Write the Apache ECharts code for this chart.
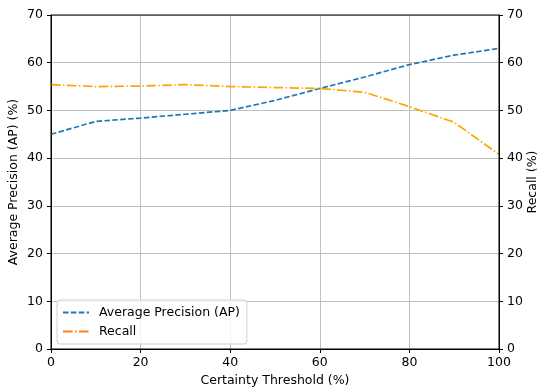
<!DOCTYPE html>
<html>
<head>
<meta charset="utf-8">
<script src="https://cdn.jsdelivr.net/npm/echarts@6/dist/echarts.min.js"></script>
<style>
  html, body { margin: 0; padding: 0; background: #fff; }
  #main { width: 538px; height: 387px; }
</style>
</head>
<body>
<div id="main"></div>
<script>
// 数据
const thresholds = [0, 10, 20, 30, 40, 50, 60, 70, 80, 90, 100];
const apValues = [45.0, 47.7, 48.4, 49.2, 50.0, 52.1, 54.6, 57.0, 59.6, 61.6, 63.0];
const recallValues = [55.4, 55.0, 55.1, 55.4, 55.0, 54.8, 54.6, 53.8, 50.8, 47.5, 40.8];

const font = 'DejaVu Sans';
const black = '#000';
const fs = 12.5;

var chartDom = document.getElementById('main');
var myChart = echarts.init(chartDom);
var option;

const pairs = (ys) => thresholds.map((x, i) => [x, ys[i]]);

const yAxisBase = {
    type: 'value',
    min: 0,
    max: 70,
    interval: 10,
    nameLocation: 'middle',
    nameRotate: 90,
    nameMoveOverlap: false,
    nameTextStyle: { fontFamily: font, fontSize: fs, color: black },
    axisLine: { show: true, lineStyle: { color: black, width: 1 } },
    axisTick: { show: true, inside: false, length: 4, lineStyle: { color: black } },
    axisLabel: { fontFamily: font, fontSize: fs, color: black, margin: 8 }
};

option = {
    animation: false,
    backgroundColor: '#fff',
    grid: { left: 51, right: 39, top: 15, bottom: 38, containLabel: false, outerBoundsMode: 'none' },
    xAxis: {
        type: 'value',
        min: 0,
        max: 100,
        interval: 20,
        name: 'Certainty Threshold (%)',
        nameLocation: 'middle',
        nameGap: 24,
        nameTextStyle: { fontFamily: font, fontSize: fs, color: black },
        axisLine: { show: true, onZero: false, lineStyle: { color: black, width: 1 } },
        axisTick: { show: true, length: 4, lineStyle: { color: black } },
        axisLabel: { fontFamily: font, fontSize: fs, color: black, margin: 7 },
        splitLine: { show: true, lineStyle: { color: '#b0b0b0', width: 0.8 } }
    },
    yAxis: [
        Object.assign({}, yAxisBase, {
            position: 'left',
            name: 'Average Precision (AP) (%)',
            nameGap: 31,
            splitLine: { show: true, lineStyle: { color: '#b0b0b0', width: 0.8 } }
        }),
        Object.assign({}, yAxisBase, {
            position: 'right',
            name: 'Recall (%)',
            nameGap: 27,
            splitLine: { show: false }
        })
    ],
    legend: {
        left: 57,
        top: 300,
        orient: 'vertical',
        itemWidth: 26,
        itemHeight: 10,
        itemGap: 6,
        padding: [6, 7, 6, 5],
        backgroundColor: 'rgba(255,255,255,0.8)',
        borderColor: '#d0d0d0',
        borderWidth: 1,
        borderRadius: 3,
        itemStyle: { opacity: 0 },
        textStyle: { fontFamily: font, fontSize: fs, color: black, padding: [0, 0, 0, 5] },
        data: [
            { name: 'Average Precision (AP)' },
            { name: 'Recall', lineStyle: { color: '#ff7f0e' } }
        ]
    },
    series: [
        {
            name: 'Average Precision (AP)',
            type: 'line',
            yAxisIndex: 0,
            data: pairs(apValues),
            symbol: 'none',
            showSymbol: false,
            color: '#1f77b4',
            lineStyle: { color: '#1f77b4', width: 1.7, type: [5.5, 2.4] }
        },
        {
            name: 'Recall',
            type: 'line',
            yAxisIndex: 1,
            data: pairs(recallValues),
            symbol: 'none',
            showSymbol: false,
            color: '#ffa500',
            lineStyle: { color: '#ffa500', width: 1.7, type: [9.6, 2.4, 1.5, 2.4] }
        }
    ],
    graphic: [
        {
            type: 'rect',
            shape: { x: 51, y: 15, width: 448, height: 334 },
            style: { fill: 'none', stroke: black, lineWidth: 1 },
            silent: true,
            z: 100
        }
    ]
};

option && myChart.setOption(option);
</script>
</body>
</html>
